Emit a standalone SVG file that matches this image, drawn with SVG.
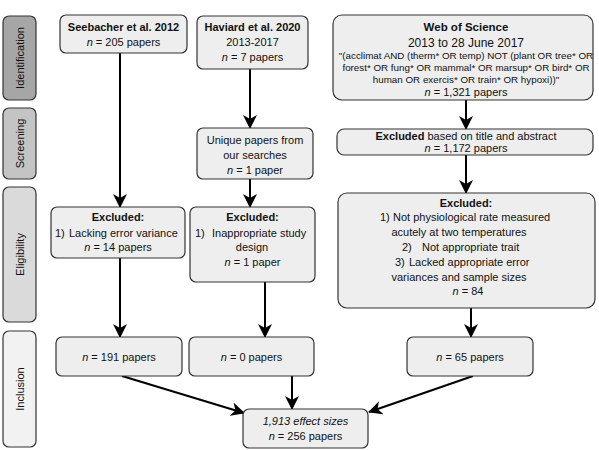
<svg xmlns="http://www.w3.org/2000/svg" width="599" height="450" viewBox="0 0 599 450">
<defs>
<style>
text{font-family:"Liberation Sans",Arial,sans-serif;font-size:11px;fill:#111;text-anchor:middle}
.b{font-weight:bold}
.i{font-style:italic}
.q{font-size:9.8px}
.s{text-anchor:start}
.box{fill:#eeeeee;stroke:#333;stroke-width:1.2}
.side{stroke:#333;stroke-width:1.2}
.c{stroke:#000;stroke-width:2;fill:none;marker-end:url(#ah)}
</style>
<marker id="ah" viewBox="0 0 14 14" refX="13" refY="7" markerWidth="14" markerHeight="14" orient="auto" markerUnits="userSpaceOnUse">
<path d="M0,0 L14,7 L0,14 L4,7 z" fill="#000"/>
</marker>
</defs>
<rect width="599" height="450" fill="#fff"/>
<g id="stage-identification"><rect class="side" x="3" y="16" width="33" height="84" rx="6" fill="#a6a6a6"/><text transform="translate(23.5,58) rotate(-90)">Identification</text></g>
<g id="stage-screening"><rect class="side" x="3" y="108" width="33" height="71" rx="6" fill="#c4c4c4"/><text transform="translate(23.5,143.5) rotate(-90)">Screening</text></g>
<g id="stage-eligibility"><rect class="side" x="3" y="187" width="33" height="135" rx="6" fill="#dadada"/><text transform="translate(23.5,254.5) rotate(-90)">Eligibility</text></g>
<g id="stage-inclusion"><rect class="side" x="3" y="331" width="33" height="116" rx="6" fill="#f2f2f2"/><text transform="translate(23.5,389) rotate(-90)">Inclusion</text></g>

<g id="connectors">
<line class="c" x1="120" y1="53" x2="120" y2="207"/>
<line class="c" x1="250" y1="69" x2="250" y2="128"/>
<line class="c" x1="250" y1="179" x2="250" y2="207"/>
<line class="c" x1="466" y1="100" x2="466" y2="129"/>
<line class="c" x1="466" y1="155" x2="466" y2="193"/>
<line class="c" x1="120" y1="258" x2="120" y2="337"/>
<line class="c" x1="265" y1="282" x2="265" y2="337"/>
<line class="c" x1="471" y1="308" x2="471" y2="337"/>
<line class="c" x1="122" y1="376" x2="244" y2="413"/>
<line class="c" x1="292" y1="376" x2="292" y2="409"/>
<line class="c" x1="473" y1="376" x2="369" y2="412"/>
</g>

<g id="seebacher"><rect class="box" x="60" y="15" width="127" height="38" rx="6"/>
<text class="b" x="123.5" y="31">Seebacher et al. 2012</text>
<text x="123.5" y="46"><tspan class="i">n</tspan> = 205 papers</text></g>

<g id="haviard"><rect class="box" x="197" y="16" width="111" height="53" rx="6"/>
<text class="b" x="252.5" y="31">Haviard et al. 2020</text>
<text x="252.5" y="46">2013-2017</text>
<text x="252.5" y="61"><tspan class="i">n</tspan> = 7 papers</text></g>

<g id="wos"><rect class="box" x="333" y="15" width="260" height="85" rx="9"/>
<text class="b" x="466" y="31" style="font-size:11.5px">Web of Science</text>
<text x="466" y="47" style="font-size:12px">2013 to 28 June 2017</text>
<text class="q" x="466" y="59">"(acclimat AND (therm* OR temp) NOT (plant OR tree* OR</text>
<text class="q" x="466" y="71">forest* OR fung* OR mammal* OR marsup* OR bird* OR</text>
<text class="q" x="466" y="83">human OR exercis* OR train* OR hypoxi))"</text>
<text x="466" y="96"><tspan class="i">n</tspan> = 1,321 papers</text></g>

<g id="unique"><rect class="box" x="197" y="128" width="116" height="51" rx="6"/>
<text x="255" y="144">Unique papers from</text>
<text x="255" y="159">our searches</text>
<text x="255" y="174"><tspan class="i">n</tspan> = 1 paper</text></g>

<g id="excluded-title"><rect class="box" x="337" y="129" width="256" height="26" rx="7"/>
<text x="466" y="140"><tspan class="b">Excluded</tspan> based on title and abstract</text>
<text x="466" y="152"><tspan class="i">n</tspan> = 1,172 papers</text></g>

<g id="excluded-1"><rect class="box" x="51" y="207" width="134" height="51" rx="6"/>
<text class="b" x="118" y="221">Excluded:</text>
<text class="s" x="55" y="237">1)</text><text class="s" x="69" y="237">Lacking error variance</text>
<text x="118" y="251"><tspan class="i">n</tspan> = 14 papers</text></g>

<g id="excluded-2"><rect class="box" x="190" y="207" width="125" height="75" rx="6"/>
<text class="b" x="252.5" y="221">Excluded:</text>
<text class="s" x="195" y="237">1)</text><text class="s" x="212" y="237">Inappropriate study</text>
<text x="252" y="251">design</text>
<text x="252.5" y="266"><tspan class="i">n</tspan> = 1 paper</text></g>

<g id="excluded-3"><rect class="box" x="338" y="193" width="257" height="115" rx="9"/>
<text class="b" x="466" y="207">Excluded:</text>
<text class="s" x="380" y="221">1)</text><text class="s" x="393" y="221">Not physiological rate  measured</text>
<text x="459" y="236">acutely at two temperatures</text>
<text class="s" x="402" y="251">2)</text><text class="s" x="422" y="251">Not appropriate trait</text>
<text class="s" x="395" y="266">3)</text><text class="s" x="409" y="266">Lacked appropriate error</text>
<text x="459" y="281">variances and sample sizes</text>
<text x="468" y="295"><tspan class="i">n</tspan> = 84</text></g>

<g id="incl-1"><rect class="box" x="56" y="337" width="126" height="39" rx="6"/>
<text x="119" y="361"><tspan class="i">n</tspan> = 191 papers</text></g>
<g id="incl-2"><rect class="box" x="189" y="337" width="125" height="39" rx="6"/>
<text x="251.5" y="361"><tspan class="i">n</tspan> = 0 papers</text></g>
<g id="incl-3"><rect class="box" x="407" y="337" width="126" height="39" rx="6"/>
<text x="470" y="361"><tspan class="i">n</tspan> = 65 papers</text></g>

<g id="final"><rect class="box" x="243" y="409" width="125" height="39" rx="6"/>
<text class="i" x="305.5" y="425">1,913 effect sizes</text>
<text x="305.5" y="440"><tspan class="i">n</tspan> = 256 papers</text></g>
</svg>
